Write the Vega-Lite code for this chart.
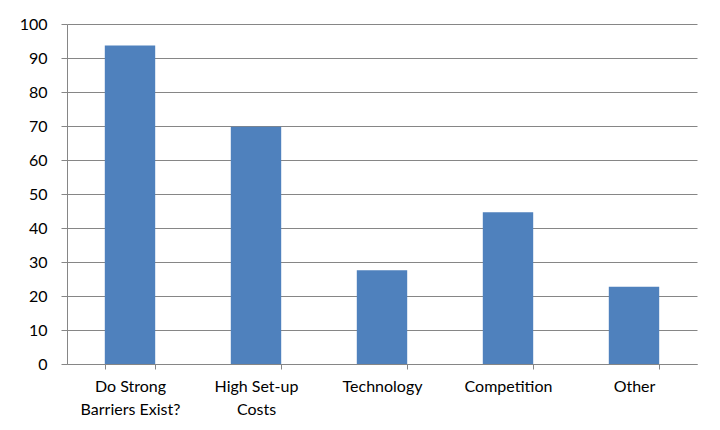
{
  "$schema": "https://vega.github.io/schema/vega-lite/v6.json",
  "width": 630,
  "height": 340,
  "autosize": {"type": "none"},
  "padding": {"left": 67, "top": 24, "right": 23, "bottom": 66},
  "background": "white",
  "config": {
    "view": {"stroke": null},
    "font": "Lato"
  },
  "data": {
    "values": [
      {"category": "Do Strong Barriers Exist?", "value": 93.7},
      {"category": "High Set-up Costs", "value": 69.8},
      {"category": "Technology", "value": 27.6},
      {"category": "Competition", "value": 44.6},
      {"category": "Other", "value": 22.7}
    ]
  },
  "mark": {"type": "bar", "color": "#4F81BD"},
  "encoding": {
    "x": {
      "field": "category",
      "type": "nominal",
      "sort": null,
      "scale": {"paddingInner": 0.6, "paddingOuter": 0.3},
      "axis": {
        "title": null,
        "labelAngle": 0,
        "labelFont": "Lato",
        "labelFontSize": 16,
        "labelColor": "#000000",
        "labelPadding": 9,
        "labelLineHeight": 23,
        "labelExpr": "datum.value == 'Do Strong Barriers Exist?' ? ['Do Strong', 'Barriers Exist?'] : datum.value == 'High Set-up Costs' ? ['High Set-up', 'Costs'] : datum.value",
        "domainColor": "#868686",
        "tickColor": "#868686",
        "tickSize": 5,
        "tickBand": "extent",
        "grid": false
      }
    },
    "y": {
      "field": "value",
      "type": "quantitative",
      "scale": {"domain": [0, 100], "nice": false},
      "axis": {
        "title": null,
        "values": [0, 10, 20, 30, 40, 50, 60, 70, 80, 90, 100],
        "labelFont": "Lato",
        "labelFontSize": 16,
        "labelColor": "#000000",
        "labelPadding": 14,
        "domainColor": "#868686",
        "tickColor": "#868686",
        "tickSize": 6,
        "gridColor": "#868686",
        "grid": true
      }
    }
  }
}
